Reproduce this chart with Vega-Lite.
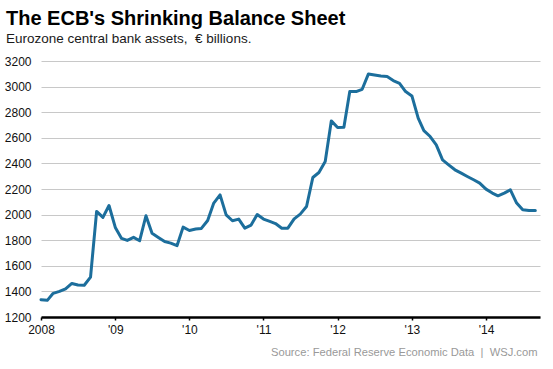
{
  "$schema": "https://vega.github.io/schema/vega-lite/v6.json",
  "width": 499,
  "height": 256,
  "autosize": {"type": "none"},
  "padding": {"left": 41, "top": 61, "right": 13, "bottom": 52},
  "background": "white",
  "title": {
    "text": "The ECB's Shrinking Balance Sheet",
    "subtitle": "Eurozone central bank assets,\u00a0 € billions.",
    "anchor": "start",
    "frame": "group",
    "dx": -35,
    "offset": 10,
    "font": "Liberation Sans",
    "fontSize": 20,
    "fontWeight": "bold",
    "color": "#000000",
    "subtitleFont": "Liberation Sans",
    "subtitleFontSize": 13.5,
    "subtitleColor": "#1a1a1a",
    "subtitlePadding": 3
  },
  "config": {
    "view": {"stroke": null},
    "font": "Liberation Sans"
  },
  "data": {
    "values": [
      {"date": "2008-01-01", "value": 1335},
      {"date": "2008-02-01", "value": 1330},
      {"date": "2008-03-01", "value": 1385},
      {"date": "2008-04-01", "value": 1400},
      {"date": "2008-05-01", "value": 1420},
      {"date": "2008-06-01", "value": 1462},
      {"date": "2008-07-01", "value": 1450},
      {"date": "2008-08-01", "value": 1448},
      {"date": "2008-09-01", "value": 1512},
      {"date": "2008-10-01", "value": 2025},
      {"date": "2008-11-01", "value": 1978},
      {"date": "2008-12-01", "value": 2071},
      {"date": "2009-01-01", "value": 1900},
      {"date": "2009-02-01", "value": 1814},
      {"date": "2009-03-01", "value": 1798},
      {"date": "2009-04-01", "value": 1822},
      {"date": "2009-05-01", "value": 1796},
      {"date": "2009-06-01", "value": 1991},
      {"date": "2009-07-01", "value": 1855},
      {"date": "2009-08-01", "value": 1822},
      {"date": "2009-09-01", "value": 1790},
      {"date": "2009-10-01", "value": 1777},
      {"date": "2009-11-01", "value": 1757},
      {"date": "2009-12-01", "value": 1902},
      {"date": "2010-01-01", "value": 1876},
      {"date": "2010-02-01", "value": 1887},
      {"date": "2010-03-01", "value": 1892},
      {"date": "2010-04-01", "value": 1954},
      {"date": "2010-05-01", "value": 2090},
      {"date": "2010-06-01", "value": 2154},
      {"date": "2010-07-01", "value": 1998},
      {"date": "2010-08-01", "value": 1952},
      {"date": "2010-09-01", "value": 1965},
      {"date": "2010-10-01", "value": 1894},
      {"date": "2010-11-01", "value": 1918},
      {"date": "2010-12-01", "value": 2001},
      {"date": "2011-01-01", "value": 1965},
      {"date": "2011-02-01", "value": 1947},
      {"date": "2011-03-01", "value": 1930},
      {"date": "2011-04-01", "value": 1894},
      {"date": "2011-05-01", "value": 1894},
      {"date": "2011-06-01", "value": 1967},
      {"date": "2011-07-01", "value": 2004},
      {"date": "2011-08-01", "value": 2063},
      {"date": "2011-09-01", "value": 2290},
      {"date": "2011-10-01", "value": 2329},
      {"date": "2011-11-01", "value": 2415},
      {"date": "2011-12-01", "value": 2732},
      {"date": "2012-01-01", "value": 2680},
      {"date": "2012-02-01", "value": 2683},
      {"date": "2012-03-01", "value": 2961},
      {"date": "2012-04-01", "value": 2961},
      {"date": "2012-05-01", "value": 2979},
      {"date": "2012-06-01", "value": 3099},
      {"date": "2012-07-01", "value": 3091},
      {"date": "2012-08-01", "value": 3083},
      {"date": "2012-09-01", "value": 3078},
      {"date": "2012-10-01", "value": 3047},
      {"date": "2012-11-01", "value": 3026},
      {"date": "2012-12-01", "value": 2961},
      {"date": "2013-01-01", "value": 2927},
      {"date": "2013-02-01", "value": 2753},
      {"date": "2013-03-01", "value": 2656},
      {"date": "2013-04-01", "value": 2610},
      {"date": "2013-05-01", "value": 2545},
      {"date": "2013-06-01", "value": 2428},
      {"date": "2013-07-01", "value": 2389},
      {"date": "2013-08-01", "value": 2350},
      {"date": "2013-09-01", "value": 2324},
      {"date": "2013-10-01", "value": 2298},
      {"date": "2013-11-01", "value": 2272},
      {"date": "2013-12-01", "value": 2246},
      {"date": "2014-01-01", "value": 2199},
      {"date": "2014-02-01", "value": 2168},
      {"date": "2014-03-01", "value": 2147},
      {"date": "2014-04-01", "value": 2168},
      {"date": "2014-05-01", "value": 2194},
      {"date": "2014-06-01", "value": 2090},
      {"date": "2014-07-01", "value": 2037},
      {"date": "2014-08-01", "value": 2032},
      {"date": "2014-09-01", "value": 2032}
    ]
  },
  "mark": {"type": "line", "color": "#1c6e9c", "strokeWidth": 3, "strokeJoin": "round", "strokeCap": "round"},
  "encoding": {
    "x": {
      "field": "date",
      "type": "temporal",
      "scale": {"domain": [{"year": 2008, "month": 1, "date": 1}, {"year": 2014, "month": 9, "date": 24}]},
      "axis": {
        "title": "Source: Federal Reserve Economic Data\u00a0 |\u00a0 WSJ.com",
        "titleAnchor": "end",
        "titleFontSize": 11.2,
        "titleFontWeight": "normal",
        "titleColor": "#999999",
        "titlePadding": 11,
        "titleX": 496,
        "tickCount": {"interval": "year", "step": 1},
        "labelExpr": "year(datum.value) == 2008 ? '2008' : \"'\" + timeFormat(datum.value, '%y')",
        "labelFontSize": 12,
        "labelColor": "#111111",
        "labelPadding": 4,
        "labelFlush": false,
        "labelOverlap": false,
        "domainColor": "#000000",
        "domainWidth": 2.5,
        "tickColor": "#000000",
        "tickSize": 3,
        "tickWidth": 1.5,
        "grid": false
      }
    },
    "y": {
      "field": "value",
      "type": "quantitative",
      "scale": {"domain": [1200, 3200], "nice": false, "zero": false},
      "axis": {
        "title": null,
        "format": "d",
        "values": [1200, 1400, 1600, 1800, 2000, 2200, 2400, 2600, 2800, 3000, 3200],
        "labelFontSize": 12,
        "labelColor": "#111111",
        "labelPadding": 10,
        "domain": false,
        "ticks": false,
        "grid": true,
        "gridColor": "#c8c8c8",
        "gridWidth": 1
      }
    }
  }
}
